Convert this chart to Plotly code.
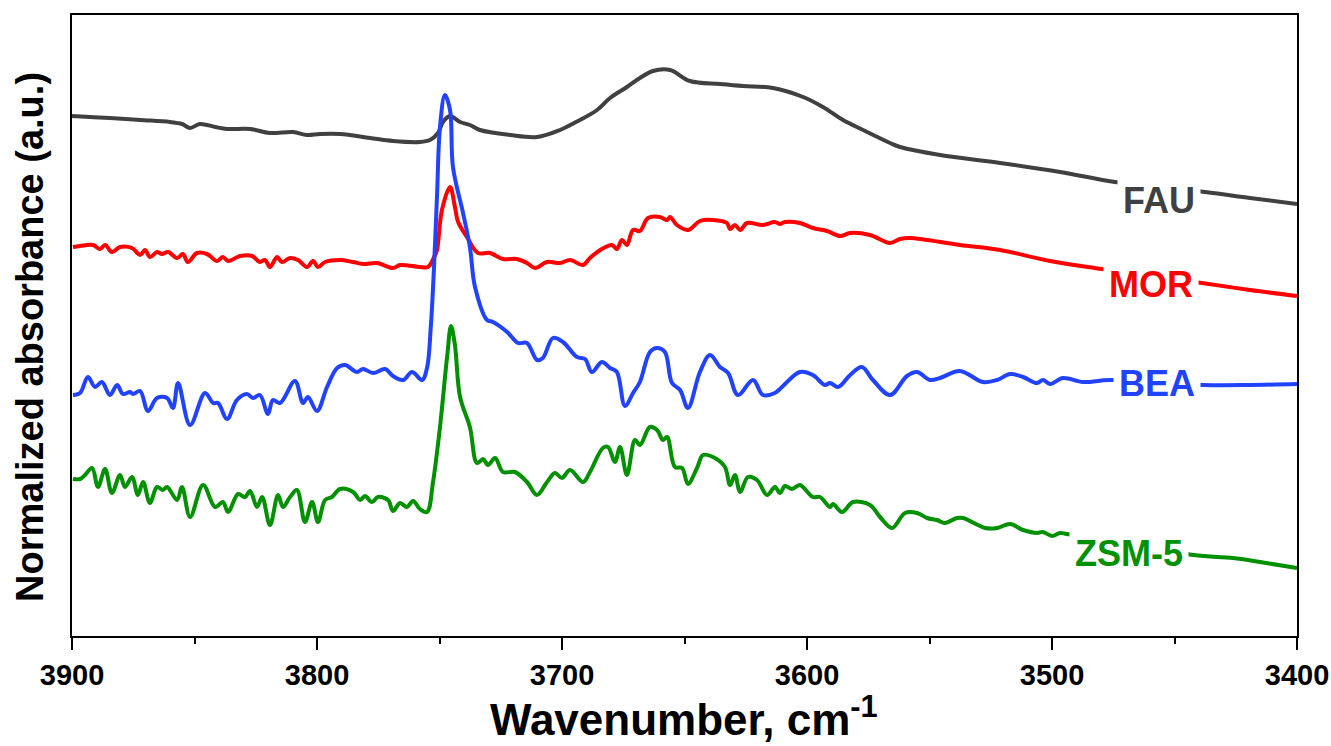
import plotly.graph_objects as go

# ---------------- data ----------------
fau_x = [3900.0, 3892.7, 3884.5, 3872.2, 3860.0, 3855.1, 3851.8, 3847.8, 3841.6, 3836.7,
         3827.3, 3819.2, 3809.8, 3804.1, 3798.8, 3790.6, 3778.4, 3769.0, 3758.0, 3753.9,
         3750.6, 3748.6, 3745.7, 3741.6, 3737.6, 3733.5, 3721.2, 3710.2, 3700.8, 3692.7,
         3685.7, 3680.4, 3673.5, 3668.2, 3662.9, 3655.9, 3647.8, 3635.5, 3626.1, 3613.9,
         3601.6, 3593.5, 3585.3, 3577.1, 3566.1, 3562.0, 3545.7, 3521.2, 3496.7, 3474.3,
         3437.6, 3419.2, 3400.0]
fau_y = [5.20, 5.19, 5.18, 5.16, 5.14, 5.12, 5.08, 5.12, 5.09, 5.07,
         5.07, 5.03, 5.04, 5.01, 5.02, 5.02, 4.98, 4.95, 4.94, 4.96,
         5.03, 5.14, 5.20, 5.14, 5.11, 5.06, 5.01, 4.99, 5.06, 5.16,
         5.26, 5.38, 5.49, 5.58, 5.65, 5.66, 5.55, 5.52, 5.50, 5.48,
         5.39, 5.29, 5.16, 5.06, 4.93, 4.89, 4.81, 4.73, 4.64, 4.54,
         4.44, 4.38, 4.32]

mor_x = [3899.6, 3896.7, 3891.4, 3888.6, 3886.5, 3883.7, 3880.4, 3875.5, 3872.2, 3870.2,
         3868.2, 3865.3, 3863.3, 3860.8, 3857.1, 3854.7, 3852.7, 3849.0, 3844.9, 3840.8,
         3838.4, 3836.3, 3831.4, 3826.5, 3823.3, 3821.2, 3819.2, 3816.3, 3814.3, 3811.0,
         3807.8, 3804.1, 3801.6, 3799.6, 3796.7, 3790.6, 3785.3, 3781.2, 3775.5, 3769.0,
         3766.1, 3758.0, 3754.7, 3751.8, 3751.0, 3749.0, 3745.7, 3743.7, 3742.4, 3738.8,
         3734.3, 3729.4, 3724.1, 3718.4, 3714.3, 3711.0, 3706.1, 3700.8, 3696.7, 3691.4,
         3688.6, 3683.7, 3679.6, 3677.6, 3675.5, 3673.5, 3671.0, 3668.2, 3664.9, 3660.0,
         3657.1, 3655.9, 3653.1, 3648.6, 3643.7, 3638.4, 3632.7, 3631.4, 3629.4, 3627.3,
         3624.5, 3618.0, 3613.1, 3611.0, 3609.0, 3602.9, 3597.6, 3591.8, 3586.5, 3582.4,
         3574.3, 3566.1, 3562.0, 3557.9, 3537.6, 3521.2, 3500.8, 3479.6, 3438.8, 3419.2,
         3400.0]
mor_y = [3.89, 3.90, 3.91, 3.87, 3.91, 3.84, 3.89, 3.88, 3.81, 3.86,
         3.79, 3.84, 3.82, 3.84, 3.78, 3.82, 3.74, 3.83, 3.82, 3.75,
         3.79, 3.75, 3.80, 3.80, 3.74, 3.76, 3.69, 3.79, 3.74, 3.78,
         3.76, 3.69, 3.75, 3.69, 3.74, 3.76, 3.74, 3.72, 3.73, 3.68,
         3.71, 3.69, 3.69, 3.81, 3.86, 4.26, 4.49, 4.29, 4.14, 3.99,
         3.83, 3.83, 3.77, 3.77, 3.73, 3.68, 3.74, 3.73, 3.76, 3.71,
         3.78, 3.87, 3.91, 3.87, 3.96, 3.91, 4.06, 4.05, 4.18, 4.19,
         4.16, 4.19, 4.11, 4.06, 4.15, 4.16, 4.13, 4.07, 4.11, 4.06,
         4.13, 4.11, 4.14, 4.12, 4.14, 4.13, 4.08, 4.05, 4.00, 4.03,
         4.01, 3.93, 3.97, 3.98, 3.91, 3.86, 3.75, 3.67, 3.53, 3.46,
         3.40]

bea_x = [3899.6, 3896.7, 3893.5, 3890.6, 3887.8, 3884.5, 3881.6, 3879.2, 3876.3, 3875.1,
         3872.2, 3869.0, 3865.3, 3861.2, 3858.8, 3856.7, 3851.8, 3845.7, 3842.4, 3840.4,
         3836.7, 3832.7, 3828.6, 3826.1, 3823.3, 3820.0, 3818.0, 3815.1, 3809.0, 3805.7,
         3803.7, 3800.0, 3795.9, 3791.8, 3788.6, 3783.7, 3781.2, 3777.1, 3772.2, 3769.0,
         3764.9, 3761.2, 3757.1, 3755.1, 3753.5, 3752.2, 3751.0, 3749.8, 3747.8, 3745.7,
         3744.5, 3740.4, 3737.6, 3735.5, 3730.6, 3728.2, 3722.4, 3718.0, 3714.3, 3710.2,
         3707.8, 3703.7, 3699.6, 3693.9, 3690.6, 3687.8, 3683.7, 3680.4, 3677.6, 3674.3,
         3671.0, 3668.2, 3664.1, 3661.2, 3658.0, 3655.1, 3651.8, 3648.6, 3643.7, 3639.6,
         3635.5, 3632.2, 3628.2, 3622.0, 3618.0, 3613.1, 3610.2, 3602.9, 3597.6, 3592.7,
         3590.6, 3587.3, 3582.4, 3577.6, 3573.1, 3566.1, 3559.2, 3555.1, 3549.8, 3545.7,
         3537.6, 3528.2, 3522.4, 3517.1, 3511.8, 3506.1, 3503.7, 3500.8, 3495.5, 3487.3,
         3476.3, 3438.4, 3419.2, 3400.0]
bea_y = [2.41, 2.43, 2.59, 2.49, 2.54, 2.41, 2.51, 2.42, 2.44, 2.42,
         2.45, 2.25, 2.38, 2.38, 2.28, 2.53, 2.11, 2.43, 2.33, 2.33,
         2.17, 2.36, 2.42, 2.38, 2.41, 2.22, 2.36, 2.33, 2.55, 2.33,
         2.39, 2.25, 2.49, 2.68, 2.71, 2.64, 2.67, 2.63, 2.67, 2.60,
         2.56, 2.64, 2.56, 2.68, 3.11, 3.71, 4.41, 5.09, 5.41, 5.26,
         4.69, 4.23, 3.89, 3.49, 3.16, 3.14, 3.04, 2.93, 2.93, 2.76,
         2.78, 2.98, 2.94, 2.79, 2.77, 2.64, 2.74, 2.68, 2.64, 2.30,
         2.43, 2.54, 2.84, 2.88, 2.84, 2.53, 2.46, 2.28, 2.64, 2.81,
         2.69, 2.63, 2.41, 2.56, 2.41, 2.43, 2.49, 2.64, 2.61, 2.51,
         2.53, 2.49, 2.61, 2.69, 2.56, 2.41, 2.60, 2.64, 2.56, 2.58,
         2.65, 2.54, 2.56, 2.62, 2.59, 2.53, 2.56, 2.52, 2.58, 2.54,
         2.56, 2.51, 2.51, 2.52]

zsm_x = [3899.6, 3896.7, 3894.7, 3891.8, 3889.4, 3886.5, 3883.7, 3880.4, 3878.4, 3875.5,
         3873.1, 3871.0, 3868.2, 3865.3, 3862.9, 3861.2, 3857.1, 3855.1, 3851.8, 3846.5,
         3841.6, 3838.4, 3836.3, 3832.2, 3829.4, 3827.3, 3824.5, 3822.4, 3819.2, 3815.9,
         3813.9, 3811.0, 3808.2, 3804.9, 3802.0, 3799.6, 3796.7, 3793.9, 3790.6, 3785.3,
         3782.4, 3780.4, 3777.6, 3775.1, 3771.0, 3769.0, 3766.1, 3763.3, 3760.8, 3758.0,
         3755.1, 3752.7, 3749.8, 3746.9, 3745.3, 3743.7, 3741.6, 3737.6, 3734.7, 3732.2,
         3730.2, 3727.3, 3724.1, 3719.2, 3714.3, 3710.2, 3706.1, 3702.9, 3700.0, 3696.7,
         3691.4, 3688.6, 3683.3, 3681.2, 3678.4, 3676.3, 3673.5, 3670.2, 3668.2, 3664.1,
         3661.2, 3658.8, 3657.1, 3653.9, 3651.0, 3648.6, 3644.9, 3642.4, 3637.6, 3633.5,
         3631.4, 3629.4, 3627.3, 3624.1, 3620.4, 3616.3, 3613.1, 3611.0, 3609.0, 3606.1,
         3602.9, 3597.6, 3594.7, 3590.6, 3589.4, 3585.7, 3581.2, 3574.3, 3570.2, 3565.3,
         3560.0, 3555.1, 3551.0, 3546.9, 3543.7, 3538.8, 3536.3, 3527.3, 3522.4, 3517.1,
         3511.8, 3506.1, 3503.7, 3500.0, 3496.7, 3493.9, 3442.4, 3426.1, 3415.1, 3400.0]
zsm_y = [1.57, 1.57, 1.61, 1.68, 1.49, 1.67, 1.43, 1.61, 1.49, 1.59,
         1.41, 1.54, 1.33, 1.49, 1.46, 1.49, 1.36, 1.49, 1.19, 1.51,
         1.29, 1.34, 1.24, 1.42, 1.39, 1.45, 1.29, 1.39, 1.11, 1.41,
         1.29, 1.39, 1.46, 1.14, 1.34, 1.14, 1.36, 1.39, 1.47, 1.44,
         1.36, 1.40, 1.34, 1.39, 1.36, 1.25, 1.33, 1.29, 1.35, 1.27,
         1.24, 1.53, 2.09, 2.79, 3.10, 2.91, 2.39, 2.09, 1.73, 1.77,
         1.71, 1.78, 1.64, 1.64, 1.54, 1.41, 1.54, 1.63, 1.58, 1.66,
         1.54, 1.64, 1.88, 1.89, 1.74, 1.89, 1.61, 1.96, 1.91, 2.09,
         2.06, 1.96, 1.99, 1.69, 1.68, 1.52, 1.68, 1.81, 1.78, 1.69,
         1.51, 1.61, 1.44, 1.59, 1.56, 1.41, 1.49, 1.43, 1.50, 1.47,
         1.51, 1.39, 1.39, 1.29, 1.32, 1.24, 1.34, 1.31, 1.19, 1.08,
         1.23, 1.23, 1.18, 1.16, 1.13, 1.18, 1.18, 1.08, 1.08, 1.12,
         1.06, 1.03, 1.04, 1.00, 1.03, 1.02, 0.81, 0.78, 0.74, 0.68]

series_names = ["FAU", "MOR", "BEA", "ZSM-5"]
series_colors = ["#404040", "#ff0000", "#2142ff", "#009000"]
label_x = [3456.3, 3459.6, 3457.1, 3468.6]
label_y = [4.36, 3.52, 2.53, 0.83]

x_ticks = [3900, 3800, 3700, 3600, 3500, 3400]
x_title = "Wavenumber, cm<sup>-1</sup>"
y_title = "Normalized absorbance (a.u.)"

# ---------------- figure ----------------
FONT = "Liberation Sans, Arial, sans-serif"
fig = go.Figure()
for name, xs, ys, col in zip(series_names,
                             [fau_x, mor_x, bea_x, zsm_x],
                             [fau_y, mor_y, bea_y, zsm_y],
                             series_colors):
    fig.add_trace(go.Scatter(x=xs, y=ys, mode="lines", name=name,
                             line=dict(color=col, width=4, shape="spline", smoothing=1.0),
                             showlegend=False))

for name, lx, ly, col in zip(series_names, label_x, label_y, series_colors):
    fig.add_annotation(x=lx, y=ly, text=name, showarrow=False,
                       font=dict(family=FONT, size=36, color=col, weight="bold"),
                       bgcolor="white", borderpad=5)

# axis titles as annotations (precise placement)
fig.add_annotation(xref="paper", yref="paper", x=0.4996, y=-0.130,
                   text=x_title, showarrow=False, xanchor="center", yanchor="middle",
                   font=dict(family=FONT, size=44, color="black", weight="bold"))
fig.add_annotation(xref="paper", yref="paper", x=-0.0343, y=0.4815,
                   text=y_title, showarrow=False, textangle=-90,
                   xanchor="center", yanchor="middle",
                   font=dict(family=FONT, size=38, color="black", weight="bold"))

fig.update_layout(
    width=1331, height=746,
    margin=dict(l=72, r=34, t=15, b=110, autoexpand=False),
    paper_bgcolor="white", plot_bgcolor="white",
    font=dict(family=FONT, color="black"),
)
fig.update_xaxes(
    range=[3900, 3400], tickvals=x_ticks, ticktext=[str(v) for v in x_ticks],
    automargin=False,
    showline=True, linecolor="black", linewidth=2, mirror=True,
    ticks="outside", ticklen=12, tickwidth=2, tickcolor="black",
    minor=dict(dtick=50, ticks="outside", ticklen=6, tickwidth=2, tickcolor="black"),
    showgrid=False, zeroline=False,
    tickfont=dict(family=FONT, size=29, color="black", weight="bold"),
)
fig.update_yaxes(
    range=[0, 6.21], showticklabels=False, ticks="", automargin=False,
    showline=True, linecolor="black", linewidth=2, mirror=True,
    showgrid=False, zeroline=False,
)

fig.write_html("out.html")
